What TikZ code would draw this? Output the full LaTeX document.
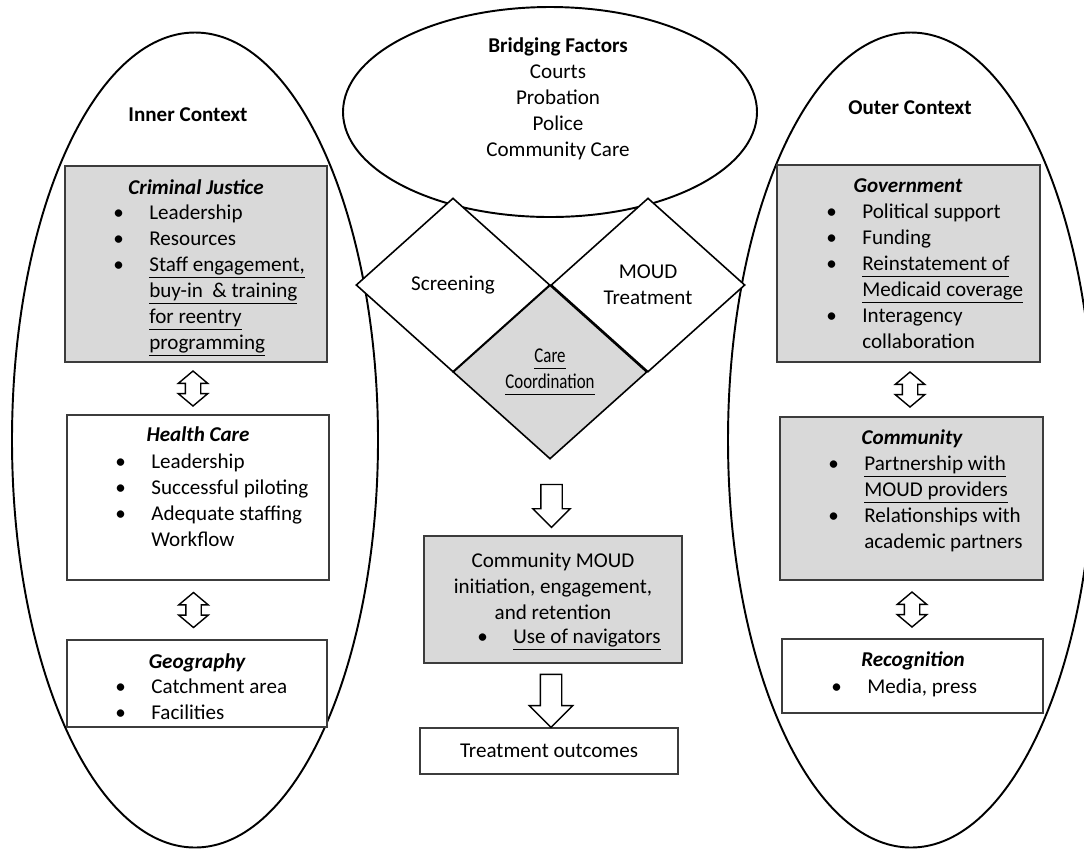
\documentclass[tikz,border=0pt]{standalone}
\usepackage{fontspec}
\usepackage{graphicx}
\setmainfont{Carlito}
\usetikzlibrary{shapes.geometric, shapes.arrows, positioning, calc}
\definecolor{boxgray}{RGB}{217,217,217}
\definecolor{edgegray}{RGB}{60,60,60}

\newlength{\px}
\setlength{\px}{0.02cm}
\newcommand{\basefont}{\fontsize{12}{14.8}\selectfont}
\newcommand{\uln}[1]{\underline{#1\vphantom{g}}}
\newcommand{\narrowuln}[1]{\scalebox{0.8}[1]{\uln{#1}}}
\newcommand{\itm}{\makebox[40\px][l]{\hspace{4\px}\textbullet}}
\newcommand{\noitm}{\makebox[40\px][l]{}}
\newcommand{\shaft}[1]{\rule{0pt}{#1\px}}

\tikzset{
  every node/.append style={font=\basefont},
  ctx/.style={draw, ellipse, line width=1.1pt, inner sep=0pt},
  factorbox/.style={draw=edgegray, fill=white, line width=0.7pt, inner sep=0pt},
  shadedbox/.style={factorbox, fill=boxgray},
  phase/.style={draw, diamond, fill=white, line width=0.9pt, inner sep=0pt,
    minimum width=194*\px, minimum height=174*\px, align=center},
  hdr/.style={font=\basefont\bfseries\itshape, anchor=base},
  blist/.style={anchor=base west, inner sep=0pt},
  updown/.style={draw, fill=white, double arrow, rotate=90, line width=0.8pt, inner sep=0pt,
    minimum height=35*\px, double arrow head extend=7*\px, double arrow tip angle=100},
  downarrow/.style={draw, fill=white, single arrow, rotate=-90, line width=0.8pt, inner sep=0pt}
}

\begin{document}
\begin{tikzpicture}[x=0.02cm, y=-0.02cm]
            \useasboundingbox (0,0) rectangle (1084,850);
            \clip (0,0) rectangle (1084,850);

            % Context ellipses
            \node[ctx, minimum width=366*\px, minimum height=815*\px] (inner) at (195,440) {};
            \node[ctx, minimum width=366*\px, minimum height=815*\px] (outer) at (911,440) {};
            \node[ctx, minimum width=414*\px, minimum height=210*\px] (bridge) at (550,112) {};

            % Inner context
            \node[font=\basefont\bfseries] (innerlbl) at (188,115) {Inner Context};

            \node[shadedbox, minimum width=262*\px, minimum height=196*\px] (cj) at (196,264) {};
            \node[hdr] (cjhdr) at (196,194) {Criminal Justice};
            \node[blist] (cjlist) at (109,219) {\begin{tabular}[t]{@{}l@{}}
              \itm Leadership\\
              \itm Resources\\
              \itm\uln{Staff engagement,}\\
              \noitm\uln{buy-in~ \& training}\\
              \noitm\uln{for reentry}\\
              \noitm\uln{programming}
            \end{tabular}};

            \node[factorbox, minimum width=262*\px, minimum height=165*\px] (hc) at (198,497.5) {};
            \node[hdr] (hchdr) at (198,441) {Health Care};
            \node[blist] (hclist) at (111,468) {\begin{tabular}[t]{@{}l@{}}
              \itm Leadership\\
              \itm Successful piloting\\
              \itm Adequate staffing\\
              \noitm Workflow
            \end{tabular}};

            \node[factorbox, minimum width=260*\px, minimum height=87*\px] (geo) at (197,683.5) {};
            \node[hdr] (geohdr) at (197,668) {Geography};
            \node[blist] (geolist) at (111,693) {\begin{tabular}[t]{@{}l@{}}
              \itm Catchment area\\
              \itm Facilities
            \end{tabular}};

            \node[updown] (cjhc) at ($(cj.south)!0.5!(hc.north)+(-4,0)$) {\shaft{14}};
            \node[updown] (hcgeo) at ($(hc.south)!0.5!(geo.north)+(-4,0)$) {\shaft{14}};

            % Outer context
            \node[font=\basefont\bfseries] (outerlbl) at (910,108) {Outer Context};

            \node[shadedbox, minimum width=263*\px, minimum height=197*\px] (gov) at (908.5,263.5) {};
            \node[hdr] (govhdr) at (908,192) {Government};
            \node[blist] (govlist) at (822,218) {\begin{tabular}[t]{@{}l@{}}
              \itm Political support\\
              \itm Funding\\
              \itm\uln{Reinstatement of}\\
              \noitm\uln{Medicaid coverage}\\
              \itm Interagency\\
              \noitm collaboration
            \end{tabular}};

            \node[shadedbox, minimum width=263*\px, minimum height=163*\px] (comm) at (911.5,498.5) {};
            \node[hdr] (commhdr) at (912,444) {Community};
            \node[blist] (commlist) at (824,470) {\begin{tabular}[t]{@{}l@{}}
              \itm\uln{Partnership with}\\
              \noitm\uln{MOUD providers}\\
              \itm Relationships with\\
              \noitm academic partners
            \end{tabular}};

            \node[factorbox, minimum width=261*\px, minimum height=74*\px] (recog) at (912.5,676) {};
            \node[hdr] (recoghdr) at (913,666) {Recognition};
            \node[blist] (recoglist) at (827,693) {\itm Media, press};

            \node[updown] (govcomm) at ($(gov.south)!0.5!(comm.north)$) {\shaft{14}};
            \node[updown] (commrecog) at ($(comm.south)!0.5!(recog.north)$) {\shaft{14}};

            % Bridging factors
            \node[align=center] (bridgetxt) at (558,99) {\textbf{Bridging Factors}\\Courts\\Probation\\Police\\Community Care};

            \node[phase] (screen) at (453,285) {Screening};
            \node[phase] (moud) at (648,285) {MOUD\\Treatment};
            \node[phase, fill=boxgray] (care) at (550,372) {\narrowuln{Care}\\\narrowuln{Coordination}};

            % Outcomes
            \node[shadedbox, minimum width=258*\px, minimum height=127*\px] (mid) at (553,599.5) {};
            \node[align=center] (midtxt) at (553,586) {Community MOUD\\initiation, engagement,\\and retention};
            \node[blist] (midlist) at (473,643) {\itm\uln{Use of navigators}};
            \node[factorbox, minimum width=258*\px, minimum height=46*\px] (outc) at (549,751) {Treatment outcomes};

            \node[downarrow, minimum height=43*\px, single arrow head extend=8*\px] (caremid) at ($(care.south)!0.5!(mid.north)+(0,3)$) {\shaft{20}};
            \node[downarrow, minimum height=53*\px, single arrow head extend=11*\px] (midoutc) at ($(mid.south)!0.5!(outc.north)$) {\shaft{20}};
        \end{tikzpicture}
\end{document}
